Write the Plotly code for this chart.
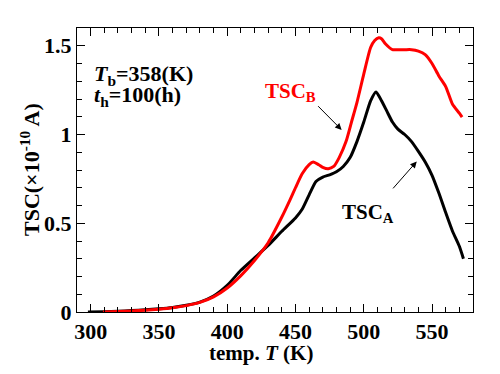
import plotly.graph_objects as go

# TSC_A (black)
temp_a = [298, 310, 320, 330, 340, 350, 360, 370, 380, 390, 400, 410, 420, 430, 440, 450,
          455, 460, 465, 470, 475, 480, 485, 490, 495, 500, 505, 509, 513, 517, 521, 525,
          530, 535, 540, 545, 550, 555, 560, 565, 570, 573]
tsc_a = [0.0, 0.002, 0.004, 0.008, 0.012, 0.018, 0.026, 0.038, 0.056, 0.09, 0.15, 0.235,
         0.305, 0.375, 0.455, 0.53, 0.58, 0.66, 0.735, 0.76, 0.773, 0.79, 0.82, 0.87, 0.96,
         1.07, 1.19, 1.24, 1.19, 1.13, 1.07, 1.03, 1.0, 0.96, 0.905, 0.845, 0.77, 0.67,
         0.56, 0.455, 0.37, 0.30]

# TSC_B (red)
temp_b = [309, 320, 330, 340, 350, 360, 370, 380, 390, 400, 410, 420, 430, 440, 446, 450,
          455, 460, 463, 467, 470, 474, 478, 482, 487, 491, 495, 500, 505, 508, 511, 513,
          516, 521, 525, 530, 535, 540, 545, 550, 555, 560, 565, 570, 572]
tsc_b = [0.0, 0.003, 0.006, 0.01, 0.016, 0.024, 0.036, 0.054, 0.085, 0.135, 0.205, 0.29,
         0.39, 0.535, 0.632, 0.70, 0.78, 0.83, 0.845, 0.83, 0.815, 0.807, 0.82, 0.87, 0.96,
         1.07, 1.18, 1.34, 1.49, 1.53, 1.545, 1.54, 1.51, 1.478, 1.478, 1.478, 1.478, 1.47,
         1.45, 1.40, 1.33, 1.27, 1.17, 1.12, 1.098]

x_ticks = [300, 350, 400, 450, 500, 550]
x_tick_labels = ["300", "350", "400", "450", "500", "550"]
y_ticks = [0, 0.5, 1, 1.5]
y_tick_labels = ["0", "0.5", "1", "1.5"]

FONT = "Liberation Serif"

fig = go.Figure()
fig.add_trace(go.Scatter(x=temp_a, y=tsc_a, mode="lines",
                         line=dict(color="black", width=3, shape="spline", smoothing=0.6),
                         showlegend=False))
# red curve on the mirrored (top/right) axes so that those axes are drawn
fig.add_trace(go.Scatter(x=temp_b, y=tsc_b, mode="lines", xaxis="x2", yaxis="y2",
                         line=dict(color="#ff0000", width=3, shape="spline", smoothing=0.6),
                         showlegend=False))

tickfont = dict(family=FONT, size=22, color="black")
common = dict(showgrid=False, zeroline=False, showline=True, linecolor="black",
              linewidth=1, ticks="inside", ticklen=8, tickcolor="black", tickwidth=1)

xminor = dict(dtick=10, tick0=300, ticks="inside", ticklen=5, tickcolor="black", tickwidth=1)
yminor = dict(dtick=0.1, tick0=0, ticks="inside", ticklen=5, tickcolor="black", tickwidth=1)

fig.update_layout(
    xaxis=dict(range=[290, 580], tickvals=x_ticks,
               ticktext=["<b>%s</b>" % t for t in x_tick_labels],
               tickfont=tickfont, minor=xminor, **common),
    yaxis=dict(range=[0, 1.6], tickvals=y_ticks,
               ticktext=["<b>%s</b>" % t for t in y_tick_labels],
               tickfont=tickfont, minor=yminor, **common),
    xaxis2=dict(range=[290, 580], tickvals=x_ticks, showticklabels=False,
                overlaying="x", side="top", anchor="y2", minor=xminor, **common),
    yaxis2=dict(range=[0, 1.6], tickvals=y_ticks, showticklabels=False,
                overlaying="y", side="right", anchor="x2", minor=yminor, **common),
)

lab = dict(family=FONT, size=22, color="black")

annotations = [
    dict(x=301, y=1.337, xref="x", yref="y", text="<b><i>T</i><sub>b</sub>=358(K)</b>",
         showarrow=False, xanchor="left", yanchor="middle", font=lab),
    dict(x=301, y=1.215, xref="x", yref="y", text="<b><i>t</i><sub>h</sub>=100(h)</b>",
         showarrow=False, xanchor="left", yanchor="middle", font=lab),
    dict(x=426, y=1.24, xref="x", yref="y", text="<b>TSC<sub>B</sub></b>",
         showarrow=False, xanchor="left", yanchor="middle",
         font=dict(family=FONT, size=21, color="#ff0000")),
    dict(x=482.6, y=0.555, xref="x", yref="y", text="<b>TSC<sub>A</sub></b>",
         showarrow=False, xanchor="left", yanchor="middle",
         font=dict(family=FONT, size=21, color="black")),
    # arrows
    dict(x=483.8, y=1.026, ax=465.5, ay=1.168, xref="x", yref="y", axref="x", ayref="y",
         text="", showarrow=True, arrowhead=2, arrowsize=1.3, arrowwidth=1, arrowcolor="black"),
    dict(x=538.8, y=0.848, ax=520.5, ay=0.688, xref="x", yref="y", axref="x", ayref="y",
         text="", showarrow=True, arrowhead=2, arrowsize=1.3, arrowwidth=1, arrowcolor="black"),
    # axis titles
    dict(x=(261 - 77) / 396, y=-0.145, xref="paper", yref="paper",
         text="<b>temp. <i>T</i> (K)</b>", showarrow=False, xanchor="center",
         yanchor="middle", font=dict(family=FONT, size=21, color="black")),
    dict(x=(30 - 77) / 396, y=0.5, xref="paper", yref="paper",
         text="<b>TSC(×10<sup>-10</sup> A)</b>", showarrow=False, xanchor="center",
         yanchor="middle", textangle=-90,
         font=dict(family=FONT, size=22, color="black")),
]

fig.update_layout(width=500, height=374, margin=dict(l=77, r=27, t=28, b=62),
                  paper_bgcolor="white", plot_bgcolor="white",
                  annotations=annotations)

fig.write_html("out.html", config={"displayModeBar": False},
               post_script="document.body.style.margin='0';document.body.style.padding='0';")
